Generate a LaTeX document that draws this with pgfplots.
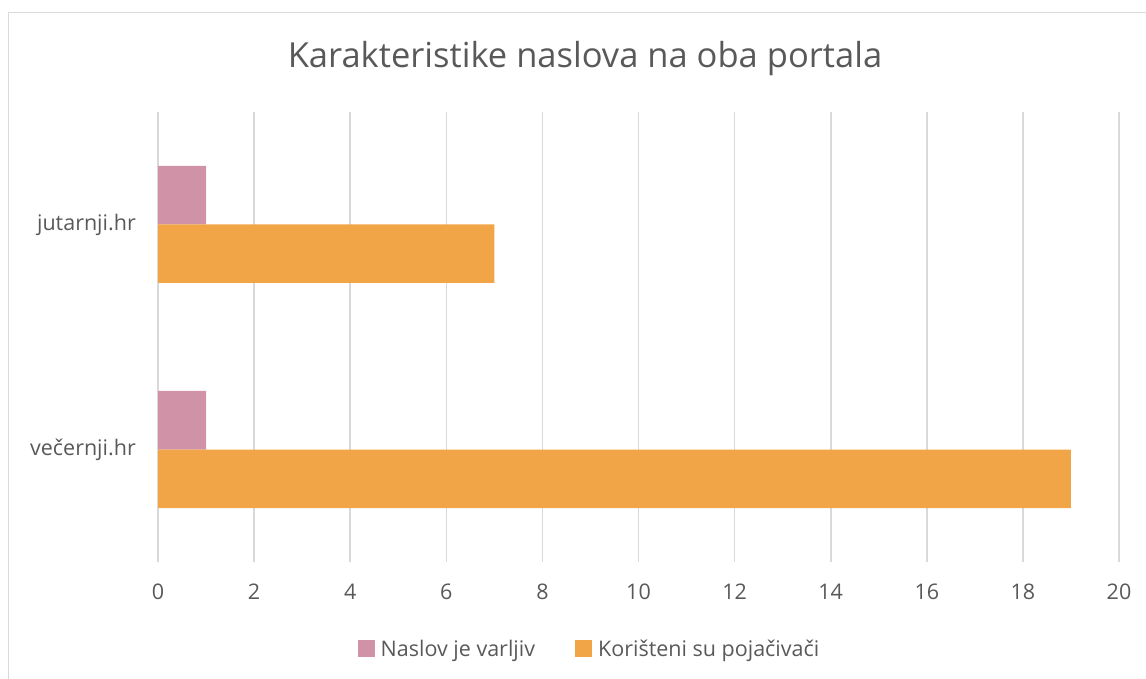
\documentclass[border=0pt]{standalone}
\usepackage{fontspec}
\setmainfont{Open Sans}
\usepackage{pgfplots}
\pgfplotsset{compat=1.18}
\definecolor{pinkbar}{RGB}{208,146,166}
\definecolor{orangebar}{RGB}{242,165,71}
\definecolor{txtgray}{RGB}{89,89,89}
\definecolor{gridgray}{RGB}{217,217,217}
\begin{document}
\begin{tikzpicture}[x=1pt,y=1pt]
\path[use as bounding box] (0,0) rectangle (1146,678);
\draw[gridgray,line width=1.4pt] (8.5,-2) -- (8.5,665.5) -- (1150,665.5);
\node[anchor=base,text=txtgray,font=\fontsize{34.5}{42}\selectfont,inner sep=0pt] at (585,610) {Karakteristike naslova na oba portala};
\begin{axis}[
  at={(158pt,116pt)}, anchor=south west,
  scale only axis, width=961pt, height=450pt,
  xbar, bar width=58.5pt,
  xmin=0, xmax=20, ymin=-0.5, ymax=1.5,
  xtick={0,2,...,20},
  ytick={0,1}, yticklabels={večernji.hr, jutarnji.hr},
  xmajorgrids, major grid style={gridgray,line width=1.6pt},
  axis line style={draw=none},
  major tick length=0pt, tick style={draw=none},
  /pgf/number format/assume math mode=true,
  tick label style={text=txtgray,font=\fontsize{21.5}{26}\selectfont,inner sep=0pt},
  xticklabel style={yshift=-22pt},
  yticklabel style={xshift=-22pt},
  legend style={at={(0.449,-0.193)}, anchor=center, draw=none, fill=none,
    legend columns=2, text=txtgray, font=\fontsize{21.5}{26}\selectfont,
    /tikz/every even column/.append style={column sep=38pt},
    inner sep=0pt},
  legend cell align=left,
  legend image code/.code={\fill[#1] (0pt,-8.5pt) rectangle (17pt,8.5pt); \path (21pt,0pt);},
  clip=false,
]
\addplot[fill=pinkbar, draw=none, bar shift=29.25pt] coordinates {(1,0) (1,1)};
\addplot[fill=orangebar, draw=none, bar shift=-29.25pt] coordinates {(19,0) (7,1)};
\legend{Naslov je varljiv, Korišteni su pojačivači}
\end{axis}
\end{tikzpicture}
\end{document}
